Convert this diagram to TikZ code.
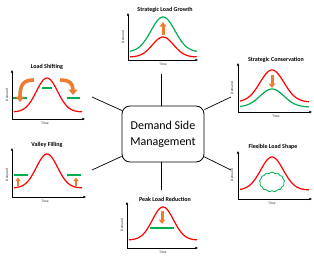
\documentclass[tikz,border=0pt]{standalone}
\usepackage{fontspec}
\setmainfont{Carlito}
\usetikzlibrary{arrows.meta,shapes.symbols,calc}
\definecolor{dsmred}{HTML}{FF0000}
\definecolor{dsmgreen}{HTML}{00B050}
\definecolor{dsmorange}{HTML}{ED7D31}
\tikzset{
  declare function={bell(\x,\c,\s)=exp(0-((\x-\c)/\s)^2);},
  axisline/.style={line width=0.9pt, black, {Latex[length=2.6pt,width=2.6pt]}-{Latex[length=2.6pt,width=2.6pt]}},
  ttl/.style={font=\fontsize{6}{7}\selectfont\bfseries, inner sep=0pt},
  ylab/.style={font=\fontsize{3.5}{4}\selectfont, rotate=90, inner sep=0pt, text=black!85},
  xlab/.style={font=\fontsize{3.5}{4}\selectfont, inner sep=0pt, text=black!85},
  redcurve/.style={dsmred, line width=1.2pt},
  greencurve/.style={dsmgreen, line width=1.2pt},
  greenbar/.style={dsmgreen, line width=1.3pt},
  bigarrow/.style={dsmorange, line width=3.6pt, -{Triangle[width=9pt,length=5.5pt]}},
  smallarrow/.style={dsmorange, line width=3pt, -{Triangle[width=6.5pt,length=4.5pt]}},
  tinyarrow/.style={dsmorange, line width=2.4pt, -{Triangle[width=5pt,length=3.5pt]}},
  conn/.style={line width=0.7pt, black},
}
\begin{document}
\begin{tikzpicture}[x=1pt,y=-1pt]
\useasboundingbox (0,0) rectangle (314,257);

% central box
\node[draw, line width=0.8pt, rounded corners=8pt, minimum width=82pt, minimum height=56pt,
      align=center, font=\fontsize{12}{16}\selectfont, inner sep=0pt] (dsm) at (163,134) {Demand Side\\Management};

% connectors
\coordinate (e1) at (92,97);
\coordinate (e2) at (231,97);
\coordinate (e3) at (92,170);
\coordinate (e4) at (231,170);
\coordinate (e5) at (161,74);
\coordinate (e6) at (161,190);
\draw[conn] (e1) -- ($(dsm.north west)+(0.5,5)$);
\draw[conn] (e2) -- ($(dsm.north east)+(0,4)$);
\draw[conn] (e3) -- ($(dsm.south west)+(0,-6)$);
\draw[conn] (e4) -- ($(dsm.south east)+(-1,-6)$);
\draw[conn] (e5) -- (e5 |- dsm.north);
\draw[conn] (e6) -- (e6 |- dsm.south);

% ---- Load Shifting
\node[ttl] (t1) at (47,67) {Load Shifting};
\draw[axisline] (12,70) -- (12,119) -- (85,119);
\node[ylab] (y1) at (7,95) {Demand};
\node[xlab] (x1) at (45,123) {Time};
\draw[redcurve] plot[domain=14:82,samples=70] (\x,{112-34*bell(\x,47,15)});
\draw[greenbar] (13,98) -- (27,98);
\draw[greenbar] (42,88) -- (52,88);
\draw[greenbar] (67,98) -- (80,98);
\draw[bigarrow] (34,80) .. controls (23,80) and (20,85) .. (20,102);
\draw[bigarrow] (60,80) .. controls (70,80) and (73,84) .. (73,95);

% ---- Valley Filling
\node[ttl] (t2) at (47,145) {Valley Filling};
\draw[axisline] (12,148) -- (12,197) -- (86,197);
\node[ylab] (y2) at (7,175) {Demand};
\node[xlab] (x2) at (45,201) {Time};
\draw[redcurve] plot[domain=14:82,samples=70] (\x,{188-34*bell(\x,47,15)});
\draw[greenbar] (14,175) -- (28,175);
\draw[greenbar] (67,175) -- (81,175);
\draw[tinyarrow] (18,186) -- (18,177.5);
\draw[tinyarrow] (76,186) -- (76,177.5);

% ---- Strategic Load Growth
\node[ttl] (t3) at (165,10) {Strategic Load Growth};
\draw[axisline] (128,13) -- (128,60) -- (198,60);
\node[ylab] (y3) at (123,37) {Demand};
\node[xlab] (x3) at (163,64) {Time};
\draw[redcurve] plot[domain=130:197,samples=70] (\x,{57-20*bell(\x,163,15)});
\draw[greencurve] plot[domain=130:197,samples=70] (\x,{52-35*bell(\x,163,17)});
\draw[smallarrow] (163,35) -- (163,22);

% ---- Strategic Conservation
\node[ttl] (t4) at (276,60) {Strategic Conservation};
\draw[axisline] (238,63) -- (238,112) -- (312,112);
\node[ylab] (y4) at (232,88) {Demand};
\node[xlab] (x4) at (276,116) {Time};
\draw[redcurve] plot[domain=240:309,samples=70] (\x,{102-32*bell(\x,272,17)});
\draw[greencurve] plot[domain=240:309,samples=70] (\x,{107-18*bell(\x,272,17)});
\draw[smallarrow] (272,75) -- (272,88);

% ---- Flexible Load Shape
\node[ttl] (t5) at (273,147) {Flexible Load Shape};
\draw[axisline] (238,151) -- (238,199) -- (312,199);
\node[ylab] (y5) at (232,175) {Demand};
\node[xlab] (x5) at (272,203) {Time};
\draw[redcurve] plot[domain=240:309,samples=70] (\x,{190-33*bell(\x,272,16)});
\node[cloud, cloud puffs=13, cloud puff arc=110, draw=dsmgreen, line width=0.8pt,
      minimum width=25pt, minimum height=20pt, aspect=1.3, inner sep=0pt] (cl) at (272,182) {};

% ---- Peak Load Reduction
\node[ttl] (t6) at (165,199) {Peak Load Reduction};
\draw[axisline] (127,202) -- (127,248) -- (198,248);
\node[ylab] (y6) at (122,225) {Demand};
\node[xlab] (x6) at (163,252) {Time};
\draw[redcurve] plot[domain=129:197,samples=70] (\x,{240-33*bell(\x,163,15)});
\draw[greenbar] (150,228) -- (174,228);
\draw[smallarrow] (162,211) -- (162,224);
\end{tikzpicture}
\end{document}
